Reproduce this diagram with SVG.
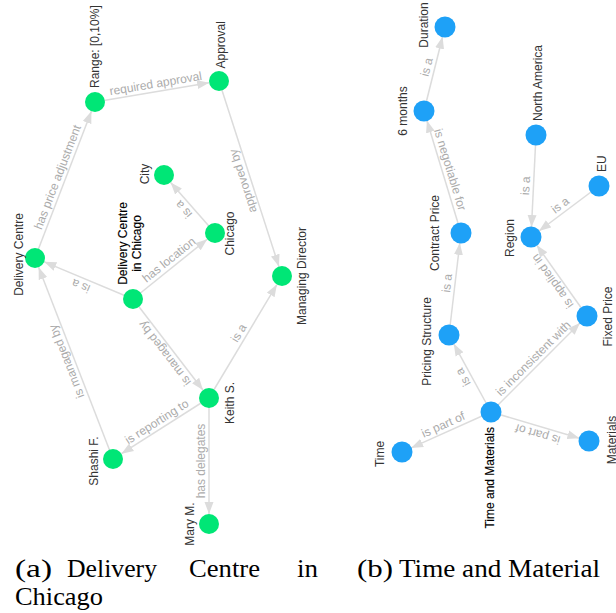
<svg xmlns="http://www.w3.org/2000/svg" width="616" height="613" viewBox="0 0 616 613">
<style>
.e{stroke:#dcdcdc;stroke-width:1.5;fill:none;marker-end:url(#arr)}
.el{font-family:"Liberation Sans",Arial,sans-serif;font-size:12px;fill:#ababab;text-anchor:middle}
.nl{font-family:"Liberation Sans",Arial,sans-serif;font-size:12px;fill:#333}
.hl{fill:#000;stroke:#000;stroke-width:0.15}
.g{fill:#00e676}
.b{fill:#1ea1f7}
.m{text-anchor:middle}
.s{text-anchor:start}
.en{text-anchor:end}
.cap{font-family:"Liberation Serif","Times New Roman",serif;font-size:25px;fill:#000}
</style>
<defs>
<marker id="arr" viewBox="0 -5 12 10" refX="12" refY="0" markerWidth="12" markerHeight="10" markerUnits="userSpaceOnUse" orient="auto">
<path d="M0,-4.5L12,0L0,4.5Z" fill="#dcdcdc"/>
</marker>
</defs>
<rect width="616" height="613" fill="#fff"/>
<g id="edges">
<!-- left graph -->
<g><line class="e" x1="95" y1="102" x2="209.14" y2="82.67"/><text class="el" transform="translate(157,91.5) rotate(-9.61)" y="-4">required approval</text></g>
<g><line class="e" x1="35" y1="258" x2="91.41" y2="111.33"/><text class="el" transform="translate(65,180) rotate(-68.96)" y="-4">has price adjustment</text></g>
<g><line class="e" x1="219" y1="81" x2="278.93" y2="266.48"/><text class="el" transform="translate(250.5,178.5) rotate(-107.9)" y="-4">approved by</text></g>
<g><line class="e" x1="215" y1="233" x2="170.6" y2="182.51"/><text class="el" transform="translate(189.5,204) rotate(-131.33)" y="-4">is a</text></g>
<g><line class="e" x1="133" y1="299" x2="207.21" y2="239.27"/><text class="el" transform="translate(174,266) rotate(-38.83)" y="-4">has location</text></g>
<g><line class="e" x1="133" y1="299" x2="44.23" y2="261.86"/><text class="el" transform="translate(84,278.5) rotate(-157.3)" y="-4">is a</text></g>
<g><line class="e" x1="133" y1="299" x2="202.91" y2="390.07"/><text class="el" transform="translate(171,348.5) rotate(-127.52)" y="-4">is managed by</text></g>
<g><line class="e" x1="209" y1="398" x2="276.87" y2="284.58"/><text class="el" transform="translate(245.5,337) rotate(-59.11)" y="-4">is a</text></g>
<g><line class="e" x1="209" y1="398" x2="121.44" y2="453.64"/><text class="el" transform="translate(161,428.5) rotate(-32.44)" y="-4">is reporting to</text></g>
<g><line class="e" x1="209" y1="398" x2="209" y2="514"/><text class="el" transform="translate(209,461) rotate(-90)" y="-4">has delegates</text></g>
<g><line class="e" x1="113" y1="459" x2="38.62" y2="267.32"/><text class="el" transform="translate(74,358.5) rotate(-111.21)" y="-4">is managed by</text></g>
<!-- right graph -->
<g><line class="e" x1="424" y1="111" x2="442.57" y2="36.7"/><text class="el" transform="translate(434.5,69) rotate(-75.96)" y="-4">is a</text></g>
<g><line class="e" x1="461" y1="233" x2="426.9" y2="120.57"/><text class="el" transform="translate(442.5,172) rotate(73.13)" y="-4">is negotiable for</text></g>
<g><line class="e" x1="449" y1="335" x2="459.83" y2="242.93"/><text class="el" transform="translate(455,284) rotate(-83.29)" y="-4">is a</text></g>
<g><line class="e" x1="536" y1="135" x2="531.49" y2="227.01"/><text class="el" transform="translate(533.5,186) rotate(-87.19)" y="-4">is a</text></g>
<g><line class="e" x1="599" y1="186" x2="539" y2="231"/><text class="el" transform="translate(565,211.5) rotate(-36.87)" y="-4">is a</text></g>
<g><line class="e" x1="587" y1="316" x2="536.78" y2="245.16"/><text class="el" transform="translate(559,276.5) rotate(-125.33)" y="-4">is applied in</text></g>
<g><line class="e" x1="491" y1="412" x2="453.79" y2="343.78"/><text class="el" transform="translate(470,373.5) rotate(-118.61)" y="-4">is a</text></g>
<g><line class="e" x1="491" y1="412" x2="579.93" y2="323.07"/><text class="el" transform="translate(539,364) rotate(-45)" y="-4">is inconsistent with</text></g>
<g><line class="e" x1="491" y1="412" x2="411.12" y2="447.9"/><text class="el" transform="translate(446.5,432) rotate(-24.2)" y="-4">is part of</text></g>
<g><line class="e" x1="491" y1="412" x2="579.41" y2="438.16"/><text class="el" transform="translate(540,426.5) rotate(-163.52)" y="-4">is part of</text></g>
</g>
<!-- left graph nodes -->
<g id="n-range"><circle class="g" cx="95" cy="102" r="10"/><text class="nl s" transform="translate(98.5,88) rotate(-90)">Range: [0,10%]</text></g>
<g id="n-approval"><circle class="g" cx="219" cy="81" r="10"/><text class="nl s" transform="translate(225,68.5) rotate(-90)">Approval</text></g>
<g id="n-city"><circle class="g" cx="164" cy="175" r="10"/><text class="nl m" transform="translate(148.5,174) rotate(-90)">City</text></g>
<g id="n-chicago"><circle class="g" cx="215" cy="233" r="10"/><text class="nl m" transform="translate(234,233.5) rotate(-90)">Chicago</text></g>
<g id="n-delivery-centre"><circle class="g" cx="35" cy="258" r="10"/><text class="nl m" transform="translate(22.5,254.5) rotate(-90)">Delivery Centre</text></g>
<g id="n-dc-chicago"><circle class="g" cx="133" cy="299" r="10"/><text class="nl m hl" transform="translate(126.5,243.5) rotate(-90)">Delivery Centre</text><text class="nl m hl" transform="translate(140.5,243.5) rotate(-90)">in Chicago</text></g>
<g id="n-managing-director"><circle class="g" cx="282" cy="276" r="10"/><text class="nl m" transform="translate(305.5,276) rotate(-90)">Managing Director</text></g>
<g id="n-keith"><circle class="g" cx="209" cy="398" r="10"/><text class="nl m" transform="translate(234,403) rotate(-90)">Keith S.</text></g>
<g id="n-shashi"><circle class="g" cx="113" cy="459" r="10"/><text class="nl m" transform="translate(98,461) rotate(-90)">Shashi F.</text></g>
<g id="n-mary"><circle class="g" cx="209" cy="524" r="10"/><text class="nl m" transform="translate(193.5,524) rotate(-90)">Mary M.</text></g>
<!-- right graph nodes -->
<g id="n-duration"><circle class="b" cx="445" cy="27" r="10.5"/><text class="nl m" transform="translate(428,25) rotate(-90)">Duration</text></g>
<g id="n-6months"><circle class="b" cx="424" cy="111" r="10.5"/><text class="nl m" transform="translate(407,111) rotate(-90)">6 months</text></g>
<g id="n-north-america"><circle class="b" cx="536" cy="135" r="10.5"/><text class="nl s" transform="translate(542,121) rotate(-90)">North America</text></g>
<g id="n-eu"><circle class="b" cx="599" cy="186" r="10.5"/><text class="nl s" transform="translate(606,172) rotate(-90)">EU</text></g>
<g id="n-contract-price"><circle class="b" cx="461" cy="233" r="10.5"/><text class="nl m" transform="translate(438.5,233) rotate(-90)">Contract Price</text></g>
<g id="n-region"><circle class="b" cx="531" cy="237" r="10.5"/><text class="nl m" transform="translate(513.5,238) rotate(-90)">Region</text></g>
<g id="n-pricing-structure"><circle class="b" cx="449" cy="335" r="10.5"/><text class="nl m" transform="translate(430.5,341.5) rotate(-90)">Pricing Structure</text></g>
<g id="n-fixed-price"><circle class="b" cx="587" cy="316" r="10.5"/><text class="nl m" transform="translate(612,316.5) rotate(-90)">Fixed Price</text></g>
<g id="n-time-materials"><circle class="b" cx="491" cy="412" r="10.5"/><text class="nl en hl" transform="translate(494,427) rotate(-90)">Time and Materials</text></g>
<g id="n-time"><circle class="b" cx="402" cy="452" r="10.5"/><text class="nl m" transform="translate(384,454) rotate(-90)">Time</text></g>
<g id="n-materials"><circle class="b" cx="589" cy="441" r="10.5"/><text class="nl m" transform="translate(616,440) rotate(-90)">Materials</text></g>
<!-- captions -->
<g id="captions">
<text class="cap" x="15" y="577" textLength="37" lengthAdjust="spacingAndGlyphs">(a)</text>
<text class="cap" x="67" y="577" textLength="90" lengthAdjust="spacingAndGlyphs">Delivery</text>
<text class="cap" x="189" y="577" textLength="71" lengthAdjust="spacingAndGlyphs">Centre</text>
<text class="cap" x="297" y="577" textLength="21" lengthAdjust="spacingAndGlyphs">in</text>
<text class="cap" x="15" y="605" textLength="88" lengthAdjust="spacingAndGlyphs">Chicago</text>
<text class="cap" x="357" y="577" textLength="36" lengthAdjust="spacingAndGlyphs">(b)</text>
<text class="cap" x="399" y="577" textLength="201" lengthAdjust="spacingAndGlyphs">Time and Material</text>
</g>
</svg>
